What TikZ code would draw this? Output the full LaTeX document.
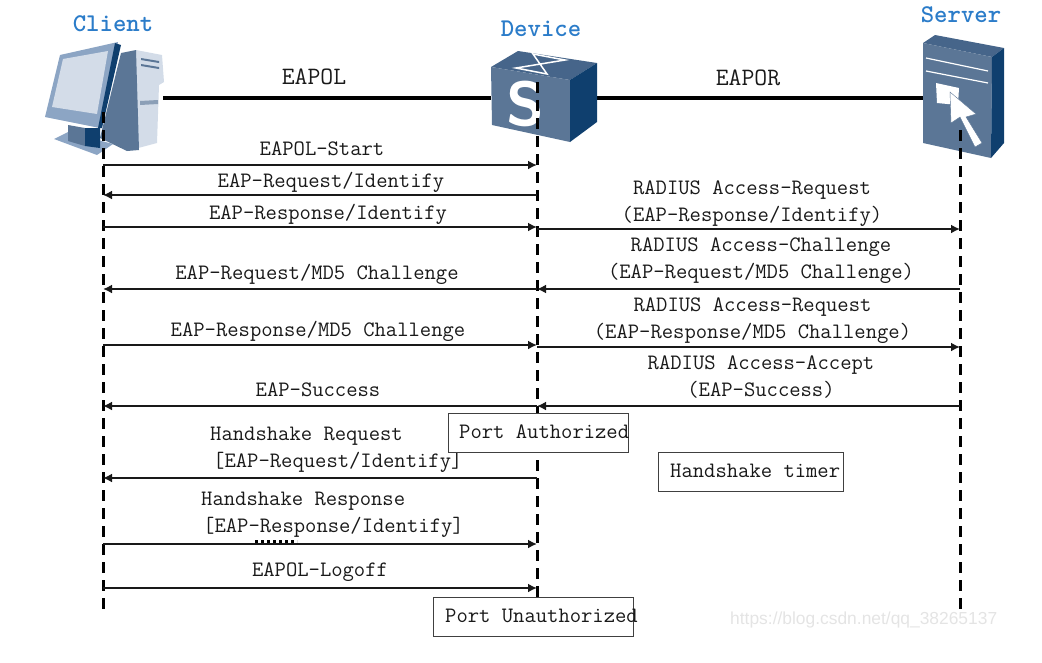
\documentclass[tikz,border=0pt]{standalone}
\usepackage{xcolor}
\usepackage{fontspec}
\usetikzlibrary{arrows.meta,positioning}
\definecolor{titleblue}{HTML}{2B7CC9}
\definecolor{iconfront}{HTML}{5B7696}
\definecolor{icontop}{HTML}{46658A}
\definecolor{icondark}{HTML}{0F3F6E}
\definecolor{iconmid}{HTML}{8CA5C4}
\definecolor{iconlight}{HTML}{D3DCE8}
\definecolor{marktext}{HTML}{E4E4E4}
\newfontfamily\markfont{Liberation Sans}
\begin{document}
\begin{tikzpicture}[x=1pt,y=-1pt, every node/.style={font=\fontsize{22}{27}\selectfont\ttfamily,inner sep=0pt}]
    \tikzstyle{title}=[text=titleblue,font=\fontsize{25.5}{30}\selectfont\ttfamily\bfseries]
    \tikzstyle{msg}=[align=center,text=black!90]
    \tikzstyle{linkname}=[text=black!90,font=\fontsize{25}{30}\selectfont\ttfamily]
    \tikzstyle{port}=[draw=black!75,line width=1pt,fill=white,minimum height=39pt]
    \tikzstyle{icon}=[minimum width=1pt]
    \tikzstyle{link}=[line width=4pt]
    \tikzstyle{life}=[line width=3pt,dash pattern=on 11pt off 7pt]
    \tikzstyle{arrow}=[-{Latex[length=9pt,width=9pt]},line width=2pt,black!90]
    \useasboundingbox (0,0) rectangle (1042,662);
    % icon boxes
    \node[icon,minimum width=117pt,minimum height=116pt] (client) at (104.5,98) {};
    \node[icon,minimum width=106pt,minimum height=95pt] (device) at (544,98) {};
    \node[icon,minimum width=81pt,minimum height=125pt] (server) at (963.5,98) {};
    % links
    \draw[link] (client.east) -- (device.west);
    \draw[link] (device.east) -- (server.west);
    % client
    \fill[iconlight] (136,50) -- (162,55) -- (164,82) -- (159,85) -- (157,143) -- (127,151) -- cycle;
    \fill[iconfront] (121,53) -- (136,50) -- (139,150) -- (127,151) -- (100,138) -- cycle;
    \fill[iconfront] (141,58) -- (159,61) -- (159,63) -- (141,60) -- cycle;
    \fill[iconfront] (141,64) -- (159,67) -- (159,69) -- (141,66) -- cycle;
    \fill[iconfront!60!iconlight] (140,101) -- (158,100) -- (158,104) -- (140,105) -- cycle;
    \fill[iconmid] (54,139) -- (68,132) -- (113,144) -- (97,155) -- cycle;
    \fill[iconfront] (68,125) -- (85,128) -- (85,146) -- (68,141) -- cycle;
    \fill[icondark] (85,128) -- (100,128) -- (100,148) -- (85,146) -- cycle;
    \fill[iconmid] (60,55) -- (118,42) -- (100,128) -- (45,117) -- cycle;
    \fill[icondark] (115,43) -- (121,45) -- (102,128) -- (98,128) -- cycle;
    \fill[iconlight] (63,59) -- (108,51) -- (97,114) -- (52,107) -- cycle;
    % device
    \fill[icontop] (491,67) -- (518,51) -- (597,63) -- (570,80) -- cycle;
    \fill[iconfront] (491,67) -- (570,80) -- (570,142) -- (492,125) -- cycle;
    \fill[icondark] (570,80) -- (597,63) -- (597,122) -- (570,142) -- cycle;
    \draw[white,line width=1.5pt] (516,68) -- (547,74) -- (533,54) -- (565,60) -- cycle;
    \node[text=white,font=\fontsize{62}{62}\selectfont\sffamily\bfseries] (devicemark) at (525,104) {S};
    % server
    \fill[icontop] (923,43) -- (935,35) -- (1004,48) -- (992,57) -- cycle;
    \fill[iconfront] (923,43) -- (992,57) -- (991,158) -- (923,143) -- cycle;
    \fill[icondark] (992,57) -- (1004,48) -- (1004,143) -- (991,158) -- cycle;
    \draw[white,line width=1.2pt] (926,58) -- (988,71);
    \draw[white,line width=1.2pt] (926,71) -- (988,83);
    \fill[white] (936,83) -- (959,88) -- (958,105) -- (937,103) -- cycle;
    \fill[white,draw=iconfront] (950,92) -- (976,114) -- (966,117) -- (982,143) -- (975,147) -- (960,117) -- (951,123) -- cycle;
    % titles
    \node[title] (clienttitle) at (113,24) {Client};
    \node[title] (devicetitle) at (541,29) {Device};
    \node[title] (servertitle) at (961,15) {Server};
    \node[linkname] (eapol) at (314,77) {EAPOL};
    \node[linkname] (eapor) at (748,78) {EAPOR};
    % lifelines
    \coordinate (ctop) at (103,112);
    \coordinate (cbot) at (103,612);
    \coordinate (dtop) at (537,82);
    \coordinate (dbot) at (537,597);
    \coordinate (stop) at (960,130);
    \coordinate (sbot) at (960,612);
    \draw[life] (ctop) -- (cbot);
    \draw[life] (dtop) -- (dbot);
    \draw[life] (stop) -- (sbot);
    % client and device
    \coordinate (c1) at (103,165); \coordinate (d1) at (537,165);
    \coordinate (c2) at (103,195); \coordinate (d2) at (537,195);
    \coordinate (c3) at (103,227); \coordinate (d3) at (537,227);
    \coordinate (c4) at (103,289); \coordinate (d4) at (537,289);
    \coordinate (c5) at (103,345); \coordinate (d5) at (537,345);
    \coordinate (c6) at (103,406); \coordinate (d6) at (537,406);
    \coordinate (c7) at (103,478); \coordinate (d7) at (537,478);
    \coordinate (c8) at (103,544); \coordinate (d8) at (537,544);
    \coordinate (c9) at (103,588); \coordinate (d9) at (537,588);
    \draw[arrow] (c1) -- (d1);
    \draw[arrow] (d2) -- (c2);
    \draw[arrow] (c3) -- (d3);
    \draw[arrow] (d4) -- (c4);
    \draw[arrow] (c5) -- (d5);
    \draw[arrow] (d6) -- (c6);
    \draw[arrow] (d7) -- (c7);
    \draw[arrow] (c8) -- (d8);
    \draw[arrow] (c9) -- (d9);
    \node[msg] (start) at (322,149) {EAPOL-Start};
    \node[msg] (reqid) at (331,182) {EAP-Request/Identify};
    \node[msg] (respid) at (328,214) {EAP-Response/Identify};
    \node[msg] (reqmd) at (317,274) {EAP-Request/MD5 Challenge};
    \node[msg] (respmd) at (318,331) {EAP-Response/MD5 Challenge};
    \node[msg] (success) at (318,390) {EAP-Success};
    \node[msg,align=left,anchor=west] (hsreq) at (210,450) {Handshake Request\\\hspace{3pt}[EAP-Request/Identify]};
    \node[msg,align=left,anchor=west] (hsresp) at (201,515) {Handshake Response\\\hspace{2pt}[EAP-Response/Identify]};
    \node[msg] (logoff) at (320,572) {EAPOL-Logoff};
    \coordinate (dota) at (255,541);
    \coordinate (dotb) at (297,541);
    \draw[line width=3pt,dash pattern=on 3pt off 3pt] (dota) -- (dotb);
    % device and server
    \coordinate (e3) at (537,229); \coordinate (s3) at (960,229);
    \coordinate (e4) at (537,289); \coordinate (s4) at (960,289);
    \coordinate (e5) at (537,347); \coordinate (s5) at (960,347);
    \coordinate (e6) at (537,406); \coordinate (s6) at (960,406);
    \draw[arrow] (e3) -- (s3);
    \draw[arrow] (s4) -- (e4);
    \draw[arrow] (e5) -- (s5);
    \draw[arrow] (s6) -- (e6);
    \node[msg] (radreq) at (752,203.5) {RADIUS Access-Request\\(EAP-Response/Identify)};
    \node[msg] (radchal) at (761,261) {RADIUS Access-Challenge\\(EAP-Request/MD5 Challenge)};
    \node[msg] (radreqb) at (752.5,320.5) {RADIUS Access-Request\\(EAP-Response/MD5 Challenge)};
    \node[msg] (radacc) at (761,377.5) {RADIUS Access-Accept\\(EAP-Success)};
    % port boxes
    \node[port,minimum width=180pt] (auth) at (538,432.5) {};
    \node[port,minimum width=185pt] (timer) at (750.5,472) {};
    \node[port,minimum width=200pt] (unauth) at (533,617) {};
    \node[msg,anchor=west] (authtext) at (459,432) {Port Authorized};
    \node[msg,anchor=west] (timertext) at (670,471) {Handshake timer};
    \node[msg,anchor=west] (unauthtext) at (445,616) {Port Unauthorized};
    \node[text=marktext,font=\fontsize{17.4}{20}\selectfont\markfont,anchor=west] (watermark) at (730,620) {https://blog.csdn.net/qq\_38265137};
\end{tikzpicture}
\end{document}
